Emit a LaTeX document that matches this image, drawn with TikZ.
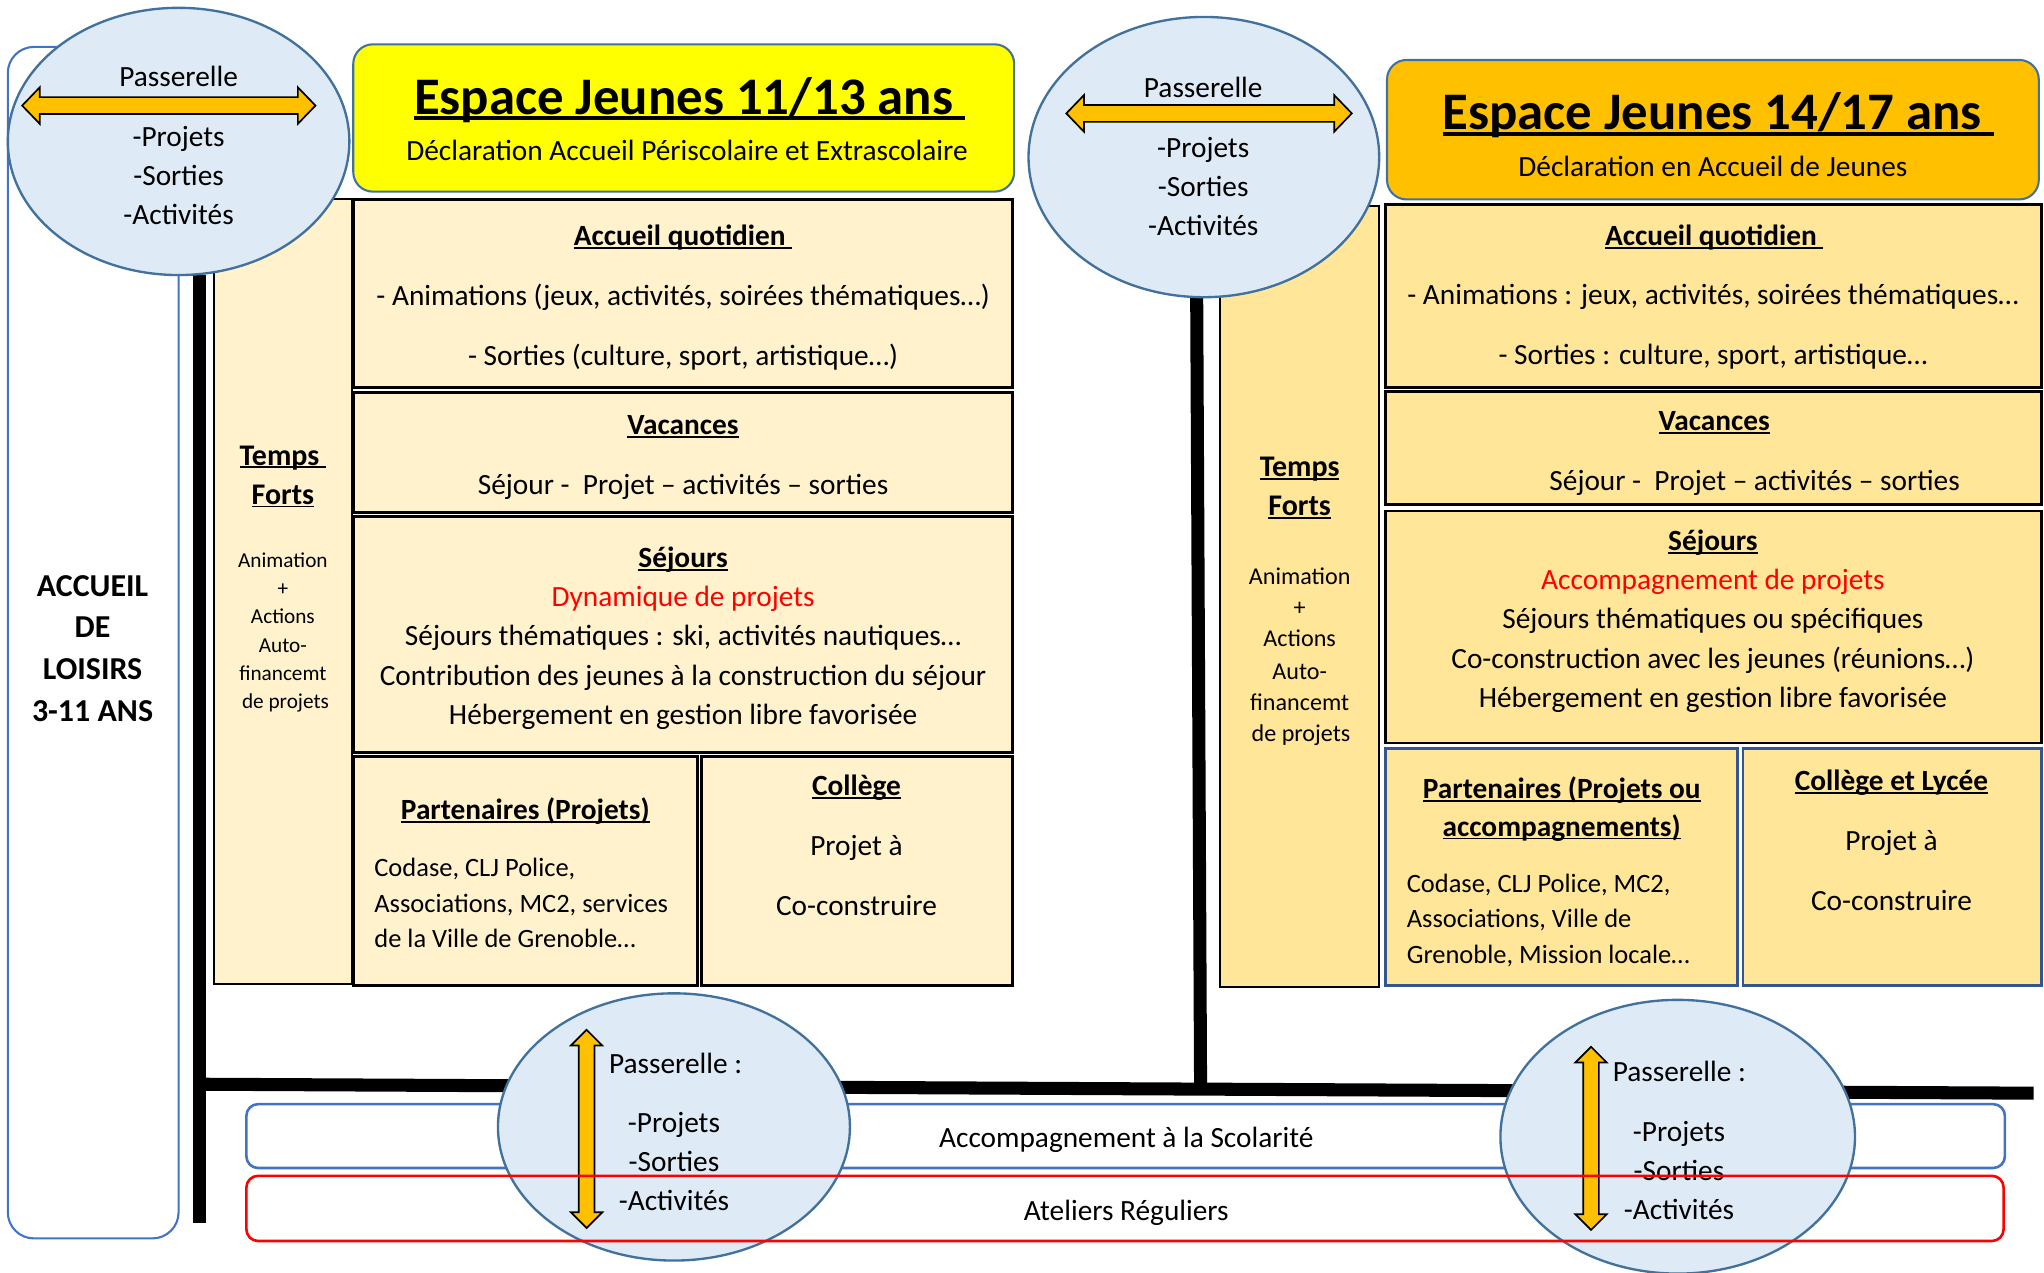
\documentclass[tikz,border=0pt]{standalone}
\usepackage{fontspec}
\setmainfont{Carlito}
\usetikzlibrary{shapes.geometric}
\definecolor{ellfill}{HTML}{DEEBF7}
\definecolor{ellline}{HTML}{41719C}
\definecolor{bluebd}{HTML}{4472C4}
\definecolor{lightyel}{HTML}{FFF2CC}
\definecolor{midyel}{HTML}{FFE699}
\definecolor{orng}{HTML}{FFC000}
\definecolor{titleyel}{HTML}{FFFF00}
\definecolor{redtxt}{HTML}{FF0000}
\newcommand\myul[1]{\leavevmode\setbox0=\hbox{#1}\rlap{\rule[-0.11em]{\wd0}{0.065em}}\box0}
\newcommand\mkbox[6]{\node[#6, minimum width={#4-#2}, minimum height={#5-#3}] (#1) at ({(#2+#4)/2},{(#3+#5)/2}) {};}
\newcommand\harrow[4]{% name x1 x2 y
 \draw[arr] (#2,#4) -- ({#2+13.5},{#4-14}) -- ({#2+13.5},{#4-6.5}) -- ({#3-13.5},{#4-6.5}) -- ({#3-13.5},{#4-14}) -- (#3,#4) -- ({#3-13.5},{#4+14}) -- ({#3-13.5},{#4+6.5}) -- ({#2+13.5},{#4+6.5}) -- ({#2+13.5},{#4+14}) -- cycle;
 \coordinate (#1) at ({(#2+#3)/2},#4);}
\newcommand\varrow[4]{% name x y1 y2
 \draw[arr] (#2,#3) -- ({#2+12},{#3+12}) -- ({#2+6},{#3+12}) -- ({#2+6},{#4-12}) -- ({#2+12},{#4-12}) -- (#2,#4) -- ({#2-12},{#4-12}) -- ({#2-6},{#4-12}) -- ({#2-6},{#3+12}) -- ({#2-12},{#3+12}) -- cycle;
 \coordinate (#1) at (#2,{(#3+#4)/2});}
\begin{document}
\begin{tikzpicture}[x=1pt,y=-1pt,
  t/.style={inner sep=0pt, text height=17pt, text depth=0pt, font=\fontsize{22.5}{27}\selectfont},
  tb/.style={t, font=\fontsize{22.5}{27}\selectfont\bfseries},
  tr/.style={t, text=redtxt},
  ts/.style={t, text height=15.5pt, anchor=west, font=\fontsize{20.3}{24}\selectfont},
  tf/.style={t, text height=12.4pt, font=\fontsize{16.3}{19}\selectfont},
  tfb/.style={t, text height=17.5pt, font=\fontsize{23}{27}\selectfont\bfseries},
  tf2/.style={t, text height=14.2pt, font=\fontsize{18.5}{22}\selectfont},
  acc/.style={t, text height=18.7pt, font=\fontsize{24.5}{29}\selectfont\bfseries},
  ttl/.style={t, text height=27pt, font=\fontsize{40.5}{48}\selectfont\bfseries},
  sub/.style={t, font=\fontsize{22.5}{27}\selectfont},
  yb1/.style={draw=black, line width=2.2pt, fill=lightyel, inner sep=0pt},
  yb2/.style={draw=black, line width=2.2pt, fill=midyel, inner sep=0pt},
  yb2b/.style={draw=bluebd!75!black, line width=2pt, fill=midyel, inner sep=0pt},
  col1/.style={draw=black, line width=1.6pt, fill=lightyel, inner sep=0pt},
  col2/.style={draw=black, line width=1.6pt, fill=midyel, inner sep=0pt},
  ell/.style={ellipse, draw=ellline, line width=1.8pt, fill=ellfill, inner sep=0pt},
  arr/.style={draw=black, line width=1.3pt, fill=orng, line join=miter},
  bar/.style={line width=9.5pt, black},
  ttlbox/.style={draw=ellline, line width=1.6pt, rounded corners=15pt, inner sep=0pt},
]
\useasboundingbox (0,0) rectangle (1568,976);

% left column
\mkbox{alsh}{6}{36}{137}{950}{draw=bluebd, line width=1.6pt, fill=white, rounded corners=20pt}
\node[acc] (a1) at (71,448) {ACCUEIL};
\node[acc] (a2) at (71,480) {DE};
\node[acc] (a3) at (71,512) {LOISIRS};
\node[acc] (a4) at (71,544) {3-11 ANS};

% black connector bars
\coordinate (v1top) at (153,211);
\coordinate (v1bot) at (153,938);
\coordinate (hleft) at (148.5,831.7);
\coordinate (hright) at (1560,838.6);
\coordinate (v2top) at (918,228);
\coordinate (v2bot) at (921,836);
\draw[bar] (v1top) -- (v1bot);
\draw[bar, line width=10pt] (hleft) -- (hright);
\draw[bar, line width=10pt] (v2top) -- (v2bot);

% ---------- Espace Jeunes 11/13 ----------
\mkbox{tf1}{164}{153}{270}{755}{col1}
\node[tfb] (tf1a) at (217,348) {\myul{Temps\ }};
\node[tfb] (tf1b) at (217,378) {\myul{Forts}};
\node[tf] (tf1c) at (217,429) {Animation};
\node[tf] (tf1d) at (217,451) {+};
\node[tf] (tf1e) at (217,472) {Actions};
\node[tf] (tf1f) at (217,494) {Auto-};
\node[tf] (tf1g) at (217,516) {financemt};
\node[tf] (tf1h) at (219,537) {de projets};

\mkbox{aq1}{271}{153}{777}{297}{yb1}
\node[tb] (aq1t) at (524,180) {\myul{Accueil quotidien\ }};
\node[t] (aq1a) at (524,226) {- Animations (jeux, activités, soirées thématiques…)};
\node[t] (aq1b) at (524,272) {- Sorties (culture, sport, artistique…)};

\mkbox{va1}{271}{301}{777}{393}{yb1}
\node[tb] (va1t) at (524,325) {\myul{Vacances}};
\node[t] (va1a) at (524,371) {Séjour -\ \ Projet – activités – sorties};

\mkbox{se1}{271}{396}{777}{577}{yb1}
\node[tb] (se1t) at (524,427) {\myul{Séjours}};
\node[tr] (se1r) at (524,457) {Dynamique de projets};
\node[t] (se1a) at (524,487) {Séjours thématiques : ski, activités nautiques…};
\node[t] (se1b) at (524,517) {Contribution des jeunes à la construction du séjour};
\node[t] (se1c) at (524,547) {Hébergement en gestion libre favorisée};

\mkbox{pa1}{271}{580}{535}{756}{yb1}
\node[tb] (pa1t) at (403,620) {\myul{Partenaires (Projets)}};
\node[ts] (pa1a) at (287,665) {Codase, CLJ Police,};
\node[ts] (pa1b) at (287,692) {Associations, MC2, services};
\node[ts] (pa1c) at (287,719) {de la Ville de Grenoble…};

\mkbox{co1}{538}{580}{777}{756}{yb1}
\node[tb] (co1t) at (657,602) {\myul{Collège}};
\node[t] (co1a) at (657,648) {Projet à};
\node[t] (co1b) at (657,694) {Co-construire};

\mkbox{ti1}{271}{34}{778}{147}{ttlbox, fill=titleyel}
\node[ttl] (ti1a) at (529,74) {\myul{Espace Jeunes 11/13 ans\ }};
\node[sub] (ti1b) at (527,115) {Déclaration Accueil Périscolaire et Extrascolaire};

% ---------- Espace Jeunes 14/17 ----------
\mkbox{tf2}{936}{158}{1058}{757}{col2}
\node[tfb] (tf2a) at (997,357) {\myul{Temps}};
\node[tfb] (tf2b) at (997,387) {\myul{Forts}};
\node[tf2] (tf2c) at (997,441) {Animation};
\node[tf2] (tf2d) at (997,465) {+};
\node[tf2] (tf2e) at (997,489) {Actions};
\node[tf2] (tf2f) at (997,514) {Auto-};
\node[tf2] (tf2g) at (997,538) {financemt};
\node[tf2] (tf2h) at (998,562) {de projets};

\mkbox{aq2}{1063}{157}{1566}{297}{yb2}
\node[tb] (aq2t) at (1315,180) {\myul{Accueil quotidien\ }};
\node[t] (aq2a) at (1314,225) {- Animations : jeux, activités, soirées thématiques…};
\node[t] (aq2b) at (1314,271) {- Sorties : culture, sport, artistique…};

\mkbox{va2}{1063}{300}{1566}{387}{yb2}
\node[tb] (va2t) at (1315,322) {\myul{Vacances}};
\node[t] (va2a) at (1346,368) {Séjour -\ \ Projet – activités – sorties};

\mkbox{se2}{1063}{392}{1566}{570}{yb2}
\node[tb] (se2t) at (1314,414) {\myul{Séjours}};
\node[tr] (se2r) at (1314,444) {Accompagnement de projets};
\node[t] (se2a) at (1314,474) {Séjours thématiques ou spécifiques};
\node[t] (se2b) at (1314,504) {Co-construction avec les jeunes (réunions…)};
\node[t] (se2c) at (1314,534) {Hébergement en gestion libre favorisée};

\mkbox{pa2}{1063}{574}{1333}{756}{yb2b}
\node[tb] (pa2t) at (1198,604) {\myul{Partenaires (Projets ou}};
\node[tb] (pa2u) at (1198,633) {\myul{accompagnements)}};
\node[ts] (pa2a) at (1079,677) {Codase, CLJ Police, MC2,};
\node[ts] (pa2b) at (1079,704) {Associations, Ville de};
\node[ts] (pa2c) at (1079,731) {Grenoble, Mission locale…};

\mkbox{co2}{1337}{574}{1566}{756}{yb2b}
\node[tb] (co2t) at (1451,598) {\myul{Collège et Lycée}};
\node[t] (co2a) at (1451,644) {Projet à};
\node[t] (co2b) at (1451,690) {Co-construire};

\mkbox{ti2}{1064}{46}{1564}{153}{ttlbox, fill=orng}
\node[ttl] (ti2a) at (1318,86) {\myul{Espace Jeunes 14/17 ans\ }};
\node[sub] (ti2b) at (1314,127) {Déclaration en Accueil de Jeunes};

% ---------- bottom bands ----------
\mkbox{scol}{189}{847}{1538}{896}{draw=bluebd, line width=2pt, fill=white, rounded corners=9pt}
\node[t] (scolt) at (864,872) {Accompagnement à la Scolarité};

% ---------- passerelles ----------
\node[ell, minimum width=262, minimum height=205] (e1) at (137,108.5) {};
\harrow{e1arr}{17}{242}{81}
\node[t] (e1a) at (137,58) {Passerelle};
\node[t] (e1b) at (137,104) {-Projets};
\node[t] (e1c) at (137,134) {-Sorties};
\node[t] (e1d) at (137,164) {-Activités};

\node[ell, minimum width=269, minimum height=215] (e2) at (923.5,120.5) {};
\harrow{e2arr}{818}{1037}{87}
\node[t] (e2a) at (923,66) {Passerelle};
\node[t] (e2b) at (923,112) {-Projets};
\node[t] (e2c) at (923,142) {-Sorties};
\node[t] (e2d) at (923,172) {-Activités};

\node[ell, minimum width=270, minimum height=205] (e3) at (517,864.5) {};
\varrow{e3arr}{450}{790}{942}
\node[t, anchor=west] (e3a) at (467,815) {Passerelle :};
\node[t] (e3b) at (517,860) {-Projets};
\node[t] (e3c) at (517,890) {-Sorties};
\node[t] (e3d) at (517,920) {-Activités};

\node[ell, minimum width=272, minimum height=210] (e4) at (1287,872) {};
\varrow{e4arr}{1220.5}{803}{943.5}
\node[t, anchor=west] (e4a) at (1237,821) {Passerelle :};
\node[t] (e4b) at (1288,867) {-Projets};
\node[t] (e4c) at (1288,897) {-Sorties};
\node[t] (e4d) at (1288,927) {-Activités};

\mkbox{atel}{189}{902}{1537}{952}{draw=red, line width=2pt, rounded corners=9pt}
\node[t] (atelt) at (864,928) {Ateliers Réguliers};
\end{tikzpicture}
\end{document}
